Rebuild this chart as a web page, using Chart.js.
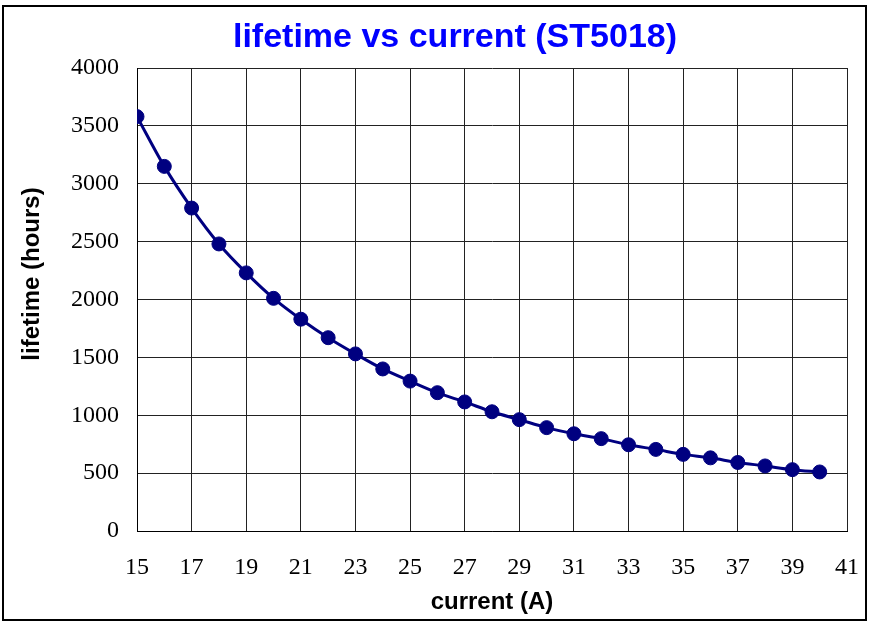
<!DOCTYPE html>
<html>
<head>
<meta charset="utf-8">
<script src="https://cdn.jsdelivr.net/npm/chart.js@4"></script>
<style>
  html, body { margin: 0; padding: 0; background: #fff; }
  #wrap { width: 869px; height: 623px; position: relative; }
</style>
</head>
<body>
<div id="wrap"><canvas id="lifeChart" width="869" height="623"></canvas></div>
<script>
const currents = [15, 16, 17, 18, 19, 20, 21, 22, 23, 24, 25, 26, 27, 28, 29, 30, 31, 32, 33, 34, 35, 36, 37, 38, 39, 40];
const lifetimes = [3580, 3150, 2790, 2480, 2230, 2010, 1830, 1670, 1530, 1400, 1295, 1195, 1115, 1030, 962, 893, 840, 798, 745, 705, 662, 632, 592, 562, 530, 510];
const xTicks = [15, 17, 19, 21, 23, 25, 27, 29, 31, 33, 35, 37, 39, 41];
const yTicks = [0, 500, 1000, 1500, 2000, 2500, 3000, 3500, 4000];
const chartTitle = 'lifetime vs current (ST5018)';
const yTitle = 'lifetime (hours)';

// frame, main title and y title (the reference puts them off-centre)
const decor = {
  id: 'decor',
  afterDraw(chart) {
    const c = chart.ctx;
    c.save();
    c.strokeStyle = '#000';
    c.lineWidth = 2;
    c.strokeRect(3, 6, 863, 614);

    c.fillStyle = '#0000ff';
    c.font = 'bold 34px "Liberation Sans"';
    c.textAlign = 'center';
    c.textBaseline = 'middle';
    c.fillText(chartTitle, 455, 38);

    c.fillStyle = '#000';
    c.font = 'bold 24px "Liberation Sans"';
    c.translate(32, 274);
    c.rotate(-Math.PI / 2);
    c.fillText(yTitle, 0, 0);
    c.restore();
  }
};

const ctx = document.getElementById('lifeChart').getContext('2d');
new Chart(ctx, {
  type: 'line',
  data: {
    datasets: [{
      label: 'lifetime',
      data: currents.map((c, i) => ({ x: c, y: lifetimes[i] })),
      borderColor: '#000080',
      backgroundColor: '#000080',
      borderWidth: 3,
      pointRadius: 7,
      pointBorderWidth: 1,
      pointBackgroundColor: '#000080',
      cubicInterpolationMode: 'monotone'
    }]
  },
  options: {
    responsive: false,
    animation: false,
    layout: { padding: { left: 50, right: 22, top: 68, bottom: 4 } },
    plugins: {
      legend: { display: false },
      tooltip: { enabled: false },
      title: { display: false }
    },
    scales: {
      x: {
        type: 'linear',
        min: 15,
        max: 41,
        afterBuildTicks: s => { s.ticks = xTicks.map(v => ({ value: v })); },
        afterFit: s => { s.height = 88; s.paddingRight = 0; s.paddingLeft = 0; },
        grid: { color: '#222', lineWidth: 1, drawTicks: false },
        border: { color: '#000', width: 1 },
        ticks: {
          color: '#000',
          padding: 22,
          maxRotation: 0,
          callback: v => String(v),
          font: { family: 'Liberation Serif', size: 24 }
        },
        title: {
          display: true,
          text: 'current (A)',
          color: '#000',
          padding: { top: 2, bottom: 2 },
          font: { family: 'Liberation Sans', size: 24, weight: 'bold' }
        }
      },
      y: {
        min: 0,
        max: 4000,
        afterBuildTicks: s => { s.ticks = yTicks.map(v => ({ value: v })); },
        afterFit: s => { s.width = 87; },
        grid: { color: '#222', lineWidth: 1, drawTicks: false },
        border: { color: '#000', width: 1 },
        ticks: {
          color: '#000',
          padding: 18,
          callback: v => String(v),
          font: { family: 'Liberation Serif', size: 24 }
        }
      }
    }
  },
  plugins: [decor]
});
</script>
</body>
</html>
